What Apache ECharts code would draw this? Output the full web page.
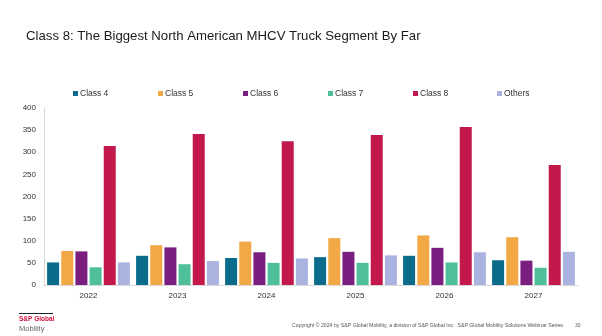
<!DOCTYPE html>
<html><head><meta charset="utf-8">
<script src="https://cdn.jsdelivr.net/npm/echarts@6/dist/echarts.min.js"></script>
<style>html,body{margin:0;padding:0;background:#fff}#c{width:602px;height:336px}</style>
</head><body><div id="c"></div>
<script>
var years = ['2022','2023','2024','2025','2026','2027'];
var seriesNames = ['Class 4','Class 5','Class 6','Class 7','Class 8','Others'];
var class4 = [51, 66, 61, 63, 66, 56];
var class5 = [77, 90, 98, 106, 112, 108];
var class6 = [76, 85, 74, 75, 84, 55];
var class7 = [40, 47, 50, 50, 51, 39];
var class8 = [314, 341, 325, 339, 357, 271];
var others = [51, 54, 60, 67, 74, 75];
var yTicks = [0, 50, 100, 150, 200, 250, 300, 350, 400];

var values = [class4, class5, class6, class7, class8, others];
var colors = ['#0a6c8a', '#f2a845', '#7a1f80', '#4fbf9b', '#c2184c', '#aab3e0'];
var legendLeft = [73, 158, 243, 328, 413, 497];
var font = 'Liberation Sans, Arial, sans-serif';

var chart = echarts.init(document.getElementById('c'), null, {renderer:'canvas'});
var legends = seriesNames.map(function(n, i){
  return {data:[n], left: legendLeft[i], top: 89, itemWidth: 5, itemHeight: 5, icon: 'rect',
    textStyle:{fontSize: 8.5, color:'#333', fontFamily: font, padding:[0,0,0,-3]}, padding: 0};
});
var option = {
  animation: false,
  title: {text: 'Class 8: The Biggest North American MHCV Truck Segment By Far', left: 21, top: 25,
    textStyle: {fontSize: 13.2, fontWeight: 'normal', color: '#1a1a1a', fontFamily: font}},
  legend: legends,
  grid: {left: 44, right: 24, top: 108, bottom: 51},
  xAxis: {type: 'category', data: years,
    axisLine: {lineStyle: {color: '#d9d9d9'}}, axisTick: {show: false},
    axisLabel: {fontSize: 8, color: '#333', fontFamily: font, margin: 7}},
  yAxis: {type: 'value', min: 0, max: 400, interval: 50,
    axisLine: {show: true, lineStyle: {color: '#d9d9d9'}}, axisTick: {show: false},
    splitLine: {show: false},
    axisLabel: {fontSize: 8, color: '#333', fontFamily: font, margin: 8,
      formatter: function(v){ return yTicks.indexOf(v) >= 0 ? String(v) : ''; }}},
  series: seriesNames.map(function(n, i){
    return {name: n, type: 'bar', data: values[i], barWidth: 12, barGap: '18%',
      itemStyle: {color: colors[i]}};
  }),
  graphic: [
    {type:'rect', shape:{x:19, y:313, width:34, height:1}, style:{fill:'#222'}},
    {type:'text', left: 19, top: 316, style:{text:'S&P Global', font:'bold 6.5px ' + font, fill:'#d0103a'}},
    {type:'text', left: 19, top: 325, style:{text:'Mobility', font:'7.5px ' + font, fill:'#666'}},
    {type:'text', left: 292, top: 323, style:{text:'Copyright \u00a9 2024 by S&P Global Mobility, a division of S&P Global Inc.  S&P Global Mobility Solutions Webinar Series.', font:'5.2px ' + font, fill:'#555'}},
    {type:'text', left: 575, top: 323, style:{text:'30', font:'5px ' + font, fill:'#555'}}
  ]
};
chart.setOption(option);
</script></body></html>
